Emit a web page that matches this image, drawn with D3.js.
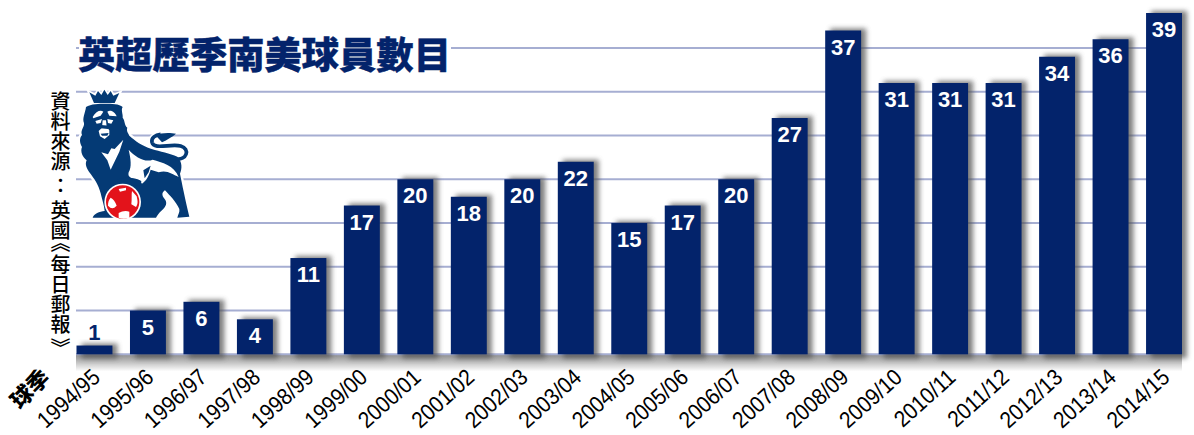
<!DOCTYPE html>
<html><head><meta charset="utf-8">
<script src="https://cdn.jsdelivr.net/npm/d3@7"></script>
<style>html,body{margin:0;background:#fff}svg{display:block}
#src{position:absolute;left:50px;top:91px;height:290px;line-height:20px;writing-mode:vertical-rl;text-spacing-trim:space-all;font-family:"Noto Sans CJK TC";font-weight:500;font-size:20px;color:#000;white-space:nowrap}</style></head>
<body><svg id="c" width="1194" height="435"></svg><div id="src"></div>
<script>
const seasons=["1994/95","1995/96","1996/97","1997/98","1998/99","1999/00","2000/01","2001/02","2002/03","2003/04","2004/05","2005/06","2006/07","2007/08","2008/09","2009/10","2010/11","2011/12","2012/13","2013/14","2014/15"];
const players=[1,5,6,4,11,17,20,18,20,22,15,17,20,27,37,31,31,31,34,36,39];
const gridValues=[5,10,15,20,25,30,35];
const titleText="英超歷季南美球員數目";
const sourceText="資料來源：英國《每日郵報》";
const axisName="球季";
const navy="#03236b";
const svg=d3.select("#c");
const defs=svg.append("defs");
const f=defs.append("filter").attr("id","sh").attr("x","-30%").attr("y","-30%").attr("width","170%").attr("height","170%");
f.append("feGaussianBlur").attr("stdDeviation",2.6);
const g0=defs.append("linearGradient").attr("id","fl").attr("x1",0).attr("x2",0).attr("y1",0).attr("y2",1);
g0.append("stop").attr("offset",0).attr("stop-color","#8c8c8c");
g0.append("stop").attr("offset",1).attr("stop-color","#fff");

const x=d3.scaleBand().domain(seasons).range([76.5,1182]).paddingInner(0.328).paddingOuter(0);
const y=d3.scaleLinear().domain([0,39]).range([354.3,13]);

svg.append("rect").attr("x",76).attr("y",y(0)).attr("width",1106).attr("height",17).attr("fill","url(#fl)");
svg.append("g").selectAll("line").data([0,...gridValues]).join("line")
 .attr("x1",76).attr("x2",x("2014/15")+4).attr("y1",d=>y(d)).attr("y2",d=>y(d))
 .attr("stroke","#a6aed2").attr("stroke-width",2);

svg.append("g").selectAll("rect").data(players).join("rect")
 .attr("x",(d,i)=>x(seasons[i])+5).attr("y",d=>y(d)-2).attr("width",x.bandwidth()).attr("height",d=>y(0)-y(d)+6)
 .attr("fill","#555").attr("opacity",.75).attr("filter","url(#sh)");
svg.append("g").selectAll("rect").data(players).join("rect")
 .attr("x",(d,i)=>x(seasons[i])).attr("y",d=>y(d)).attr("width",x.bandwidth()).attr("height",d=>y(0)-y(d))
 .attr("fill",navy);
svg.append("g").selectAll("text").data(players).join("text")
 .attr("x",(d,i)=>x(seasons[i])+x.bandwidth()/2)
 .attr("y",d=>d<2?y(d)-6:y(d)+24)
 .attr("text-anchor","middle").attr("font-family","Liberation Sans").attr("font-weight","bold").attr("font-size",22)
 .attr("fill",d=>d<2?navy:"#fff").text(d=>d);

const ax=d3.axisBottom(x).tickSize(0).tickPadding(0);
const ag=svg.append("g").attr("transform",`translate(0,${y(0)})`).call(ax);
ag.select(".domain").remove();
ag.selectAll("text").attr("font-family","Liberation Sans").attr("font-size",23).attr("fill","#000")
 .attr("text-anchor","end").attr("dy",0).attr("y",0)
 .attr("transform","translate(7,25) rotate(-42) scale(.9,1)");

svg.append("rect").attr("x",79).attr("y",36).attr("width",372).attr("height",38).attr("fill","#fff");
svg.append("text").attr("x",78).attr("y",69).attr("font-family","Noto Sans CJK TC").attr("font-weight",900).attr("font-size",37.3)
 .attr("fill",navy).attr("stroke",navy).attr("stroke-width",.4).text(titleText);
const punct={"：":[4,5],"《":[-8,2],"》":[4,0]};
d3.select("#src").selectAll("span").data([...sourceText]).join("span").text(d=>d)
 .style("margin-inline-start",d=>(punct[d]?punct[d][0]:0)+"px")
 .style("margin-inline-end",d=>(punct[d]?punct[d][1]:0)+"px");
svg.append("text").attr("transform","translate(20,410) rotate(-45)").attr("font-family","Noto Sans CJK TC").attr("font-weight",900).attr("font-size",22).attr("fill","#000").text(axisName);

// Premier League lion emblem (decorative artwork), drawn on a 3x grid
const logo=svg.append("g").attr("transform","translate(70,85) scale(0.3333)");
const blue="#043a75";
const bodyD="M48 66 C62 56 90 56 104 56 C125 56 148 56 158 66 C152 76 160 88 158 98 C166 108 162 120 172 128 C168 138 176 146 178 152 C196 168 215 182 245 192 C270 200 300 205 322 215 C338 232 336 250 330 266 C336 296 345 340 358 395 L322 398 C324 388 330 382 328 372 C318 350 300 332 285 316 C276 322 274 330 284 342 C292 352 290 364 276 376 C266 384 262 392 258 398 L68 398 C72 386 88 380 104 378 C102 360 98 350 92 325 C86 300 72 280 58 262 C50 250 44 238 50 226 C38 216 30 200 36 186 C28 172 28 160 36 150 C30 136 44 126 42 114 C36 100 46 84 48 66 Z";
const crownD="M72 54 L58 22 L76 32 L84 18 L94 30 L103 14 L113 30 L122 18 L130 32 L148 24 L134 54 Z";
const tailD="M318 222 C350 226 362 192 332 183 C302 175 252 196 246 172 C243 158 256 150 272 148";
logo.append("path").attr("d",bodyD).attr("fill","#fff").attr("stroke","#fff").attr("stroke-width",14);
logo.append("path").attr("d",crownD).attr("fill","#fff").attr("stroke","#fff").attr("stroke-width",10);
logo.append("path").attr("d",tailD).attr("fill","none").attr("stroke","#fff").attr("stroke-width",20);
logo.append("path").attr("d",crownD).attr("fill",blue);
logo.append("path").attr("d",bodyD).attr("fill",blue);
logo.append("path").attr("d",tailD).attr("fill","none").attr("stroke",blue).attr("stroke-width",11);
logo.append("path").attr("fill",blue).attr("d","M258 152 C272 142 300 143 318 146 C306 156 292 164 276 172 Z");
logo.append("path").attr("fill","#fff").attr("d",
 "M68 96 C78 78 92 74 100 80 L92 92 L70 100 Z M112 80 C122 72 136 82 140 94 L118 92 Z "+
 "M76 108 L96 102 L92 114 L80 116 Z M112 102 L130 106 L124 116 L114 114 Z "+
 "M98 106 L108 106 L110 126 L118 136 L118 150 L104 162 L90 154 L86 138 L96 128 Z "+
 "M160 164 L148 200 L122 254 L112 226 L94 202 L114 208 L124 190 L134 192 Z "+
 "M176 194 C196 216 226 234 248 224 C276 232 312 240 326 276 C306 268 292 254 266 262 L242 254 C236 272 232 284 216 296 L208 286 C184 280 172 278 176 262 C186 246 182 220 176 194 Z");
logo.append("path").attr("fill",blue).attr("d","M136 288 C152 276 190 274 214 288 L212 302 L146 304 Z M220 256 L242 242 L236 262 L224 280 Z");
logo.append("path").attr("fill",blue).attr("d","M94 120 L118 122 L114 132 L92 130 Z M92 146 L116 144 L112 152 L96 152 Z");
logo.append("circle").attr("cx",158).attr("cy",351).attr("r",55).attr("fill","#fff");
logo.append("circle").attr("cx",158).attr("cy",351).attr("r",50).attr("fill","#e3131b");
logo.append("path").attr("fill","#fff").attr("d",
 "M122 338 C130 342 136 350 140 362 C130 372 124 372 114 362 C114 352 116 344 122 338 Z "+
 "M186 318 L200 334 C204 350 204 358 198 366 L184 358 C186 344 184 330 186 318 Z "+
 "M146 384 C156 378 168 376 178 380 L178 398 C166 402 156 402 146 398 Z "+
 "M146 312 L168 308 L168 316 L150 320 Z");
</script></body></html>
